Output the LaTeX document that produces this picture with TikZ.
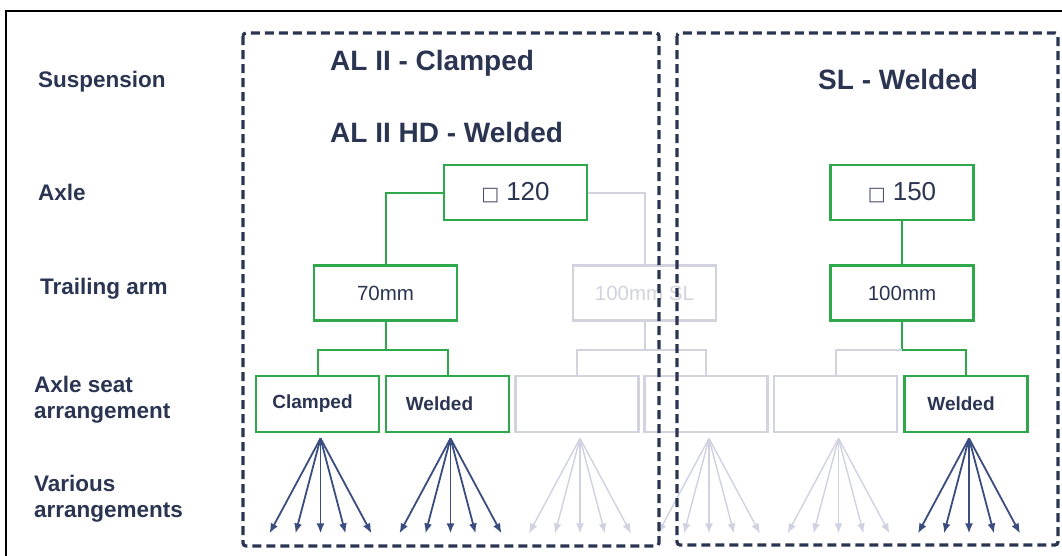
\documentclass[tikz,border=0pt]{standalone}
\usepackage{fontspec}
\setmainfont{Liberation Sans}
\newfontfamily\symf{DejaVu Sans}
\usetikzlibrary{arrows.meta}
\definecolor{navy}{HTML}{2B3552}
\definecolor{grn}{HTML}{2EA84A}
\definecolor{lgray}{HTML}{D3D3DF}
\definecolor{arr}{HTML}{3A4D7E}
\definecolor{larr}{HTML}{D0D2E2}
\definecolor{sqc}{HTML}{4A5270}
\begin{document}
\begin{tikzpicture}[x=1pt,y=-1pt,
  lab/.style={font=\bfseries\fontsize{22.5}{26}\selectfont, text=navy, inner sep=0pt, anchor=west, align=left},
  ttl/.style={font=\bfseries\fontsize{28}{30}\selectfont, text=navy, inner sep=0pt, anchor=west},
  gbox/.style={draw=grn, line width=2.8pt, fill=white, minimum width=143pt, minimum height=55pt, inner sep=0pt, text=navy},
  sbox/.style={gbox, minimum width=123pt, minimum height=56pt},
  gybox/.style={sbox, draw=lgray},
  gcon/.style={draw=grn, line width=2pt},
  ycon/.style={draw=lgray, line width=2pt},
  fan/.style={draw=arr, line width=1.8pt, -{Latex[length=10pt,width=8pt]}},
  lfan/.style={draw=larr, line width=1.4pt, -{Latex[length=10pt,width=8pt]}},
  frame/.style={draw=navy, line width=3.2pt, dash pattern=on 9pt off 5pt, rounded corners=3pt},
  numtxt/.style={font=\fontsize{20.5}{24}\selectfont}
]
\useasboundingbox (0,0) rectangle (1062,555);
% outer frame
\draw[line width=2pt, black] (6,560) -- (6,11) -- (1070,11);

% row labels
\node[lab] (l1) at (38,82) {Suspension};
\node[lab] (l2) at (38,192) {Axle};
\node[lab] (l3) at (40,289) {Trailing arm};
\node[lab] (l4) at (34,400) {Axle seat\\arrangement};
\node[lab] (l5) at (34,499) {Various\\arrangements};

% titles
\node[ttl] (t1) at (330,63) {AL II - Clamped};
\node[ttl] (t2) at (330,132) {AL II HD - Welded};
\node[ttl] (t3) at (818,79) {SL - Welded};

% axle boxes
\node[gbox] (ax1) at (515.5,192.5) {\fontsize{26}{28}\selectfont{\symf\fontsize{19}{19}\selectfont\color{sqc}□}\hspace{7pt}120};
\node[gbox] (ax2) at (902,192.5) {\fontsize{26}{28}\selectfont{\symf\fontsize{19}{19}\selectfont\color{sqc}□}\hspace{7pt}150};

% trailing arm boxes
\node[gbox, draw=lgray, text=lgray, numtxt] (ta2) at (644.5,293) {100mm SL};
\node[gbox, numtxt] (ta1) at (385.5,293) {70mm};
\node[gbox, numtxt] (ta3) at (902,293) {100mm};

% axle seat boxes
\node[sbox] (b1) at (317.5,404) {\hspace*{-10pt}\textbf{\fontsize{19}{22}\selectfont Clamped}};
\node[sbox] (b2) at (447.5,404) {\hspace*{-16pt}\textbf{\fontsize{19}{22}\selectfont Welded}};
\node[gybox] (b3) at (577,404) {};
\node[gybox] (b4) at (706,404) {};
\node[gybox] (b5) at (835.5,404) {};
\node[sbox] (b6) at (966,404) {\hspace*{-10pt}\textbf{\fontsize{19}{22}\selectfont Welded}};

% connectors gray
\draw[ycon] (ax1.east) -| (ta2.north);
\draw[ycon] (ta2.south) -- ++(0,28) coordinate (j2);
\draw[ycon] (j2) -| (b3.north);
\draw[ycon] (j2) -| (b4.north);
\draw[gcon] (ta3.south) -- ++(0,28) coordinate (j3);
\draw[ycon] (j3) -| (b5.north);
% connectors green
\draw[gcon] (ax1.west) -| (ta1.north);
\draw[gcon] (ta1.south) -- ++(0,28) coordinate (j1);
\draw[gcon] (j1) -| (b1.north);
\draw[gcon] (j1) -| (b2.north);
\draw[gcon] (ax2.south) -- (ta3.north);
\draw[gcon] (j3) -| (b6.north);

% fans
\foreach \b/\s in {b1/fan, b2/fan, b3/lfan, b4/lfan, b5/lfan, b6/fan}{
  \foreach \dx in {-51,-25,0,25,51}{
    \draw[\s] ([xshift=3pt,yshift=-5pt]\b.south) -- ++(\dx,95);
  }
}

% dashed frames
\draw[frame] (243,33) rectangle (659,546);
\draw[frame] (677,33) rectangle (1058,545);
\end{tikzpicture}
\end{document}
